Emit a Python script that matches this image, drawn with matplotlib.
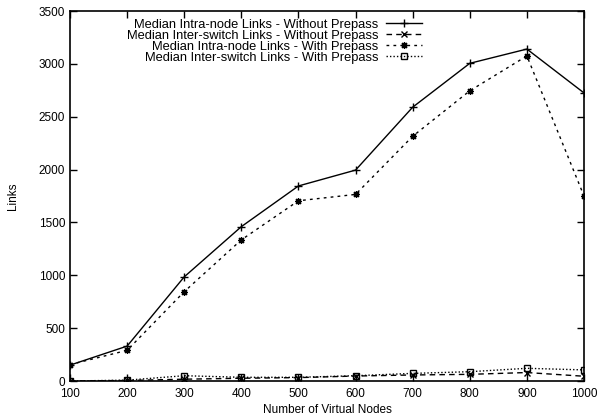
import matplotlib
matplotlib.use("Agg")
import matplotlib.pyplot as plt

plt.rcParams['font.family'] = ['Liberation Sans', 'DejaVu Sans']

nodes = [100, 200, 300, 400, 500, 600, 700, 800, 900, 1000]
intra_without = [150, 330, 985, 1460, 1845, 1995, 2590, 3005, 3140, 2725]
inter_without = [0, 5, 17, 26, 32, 47, 57, 63, 80, 45]
intra_with = [155, 290, 845, 1335, 1705, 1765, 2315, 2745, 3075, 1750]
inter_with = [0, 8, 50, 35, 35, 50, 72, 88, 120, 105]

labels = [
    "Median Intra-node Links - Without Prepass",
    "Median Inter-switch Links - Without Prepass",
    "Median Intra-node Links - With Prepass",
    "Median Inter-switch Links - With Prepass",
]

fig = plt.figure(figsize=(5.97, 4.19), dpi=100)
ax = fig.add_axes([70 / 597, 38 / 419, 514 / 597, 370 / 419])

ax.plot(nodes, intra_without, color='black', lw=1, ls='-', marker='+', ms=6, mew=1, label=labels[0])
ax.plot(nodes, inter_without, color='black', lw=1, ls=(0, (4, 3)), marker='x', ms=5, mew=1, label=labels[1])
ax.plot(nodes, intra_with, color='black', lw=1, ls=(0, (2, 3)), marker=(8, 2, 0), ms=5, mew=0.9, label=labels[2])
ax.plot(nodes, inter_with, color='black', lw=1, ls=(0, (1, 1.5)), marker='s', ms=5, mew=1,
        mfc='none', label=labels[3])

ax.set_xlim(100, 1000)
ax.set_ylim(0, 3500)
ax.set_xticks(nodes)
ax.set_yticks(range(0, 3501, 500))
ax.tick_params(direction='in', length=5, width=1, top=True, right=True, labelsize=8.5, colors='black')
ax.tick_params(axis='x', pad=5)
for s in ax.spines.values():
    s.set_linewidth(1.2)

ax.set_xlabel("Number of Virtual Nodes", fontsize=8.5, labelpad=3)
ax.set_ylabel("Links", fontsize=8.5, labelpad=14)

ax.legend(loc='upper right', bbox_to_anchor=(360 / 514, 1.0), markerfirst=False, frameon=False,
          fontsize=9.3, handlelength=2.8, labelspacing=-0.08, handletextpad=0.6, borderaxespad=0.2)

fig.savefig("out.png", dpi=100)
